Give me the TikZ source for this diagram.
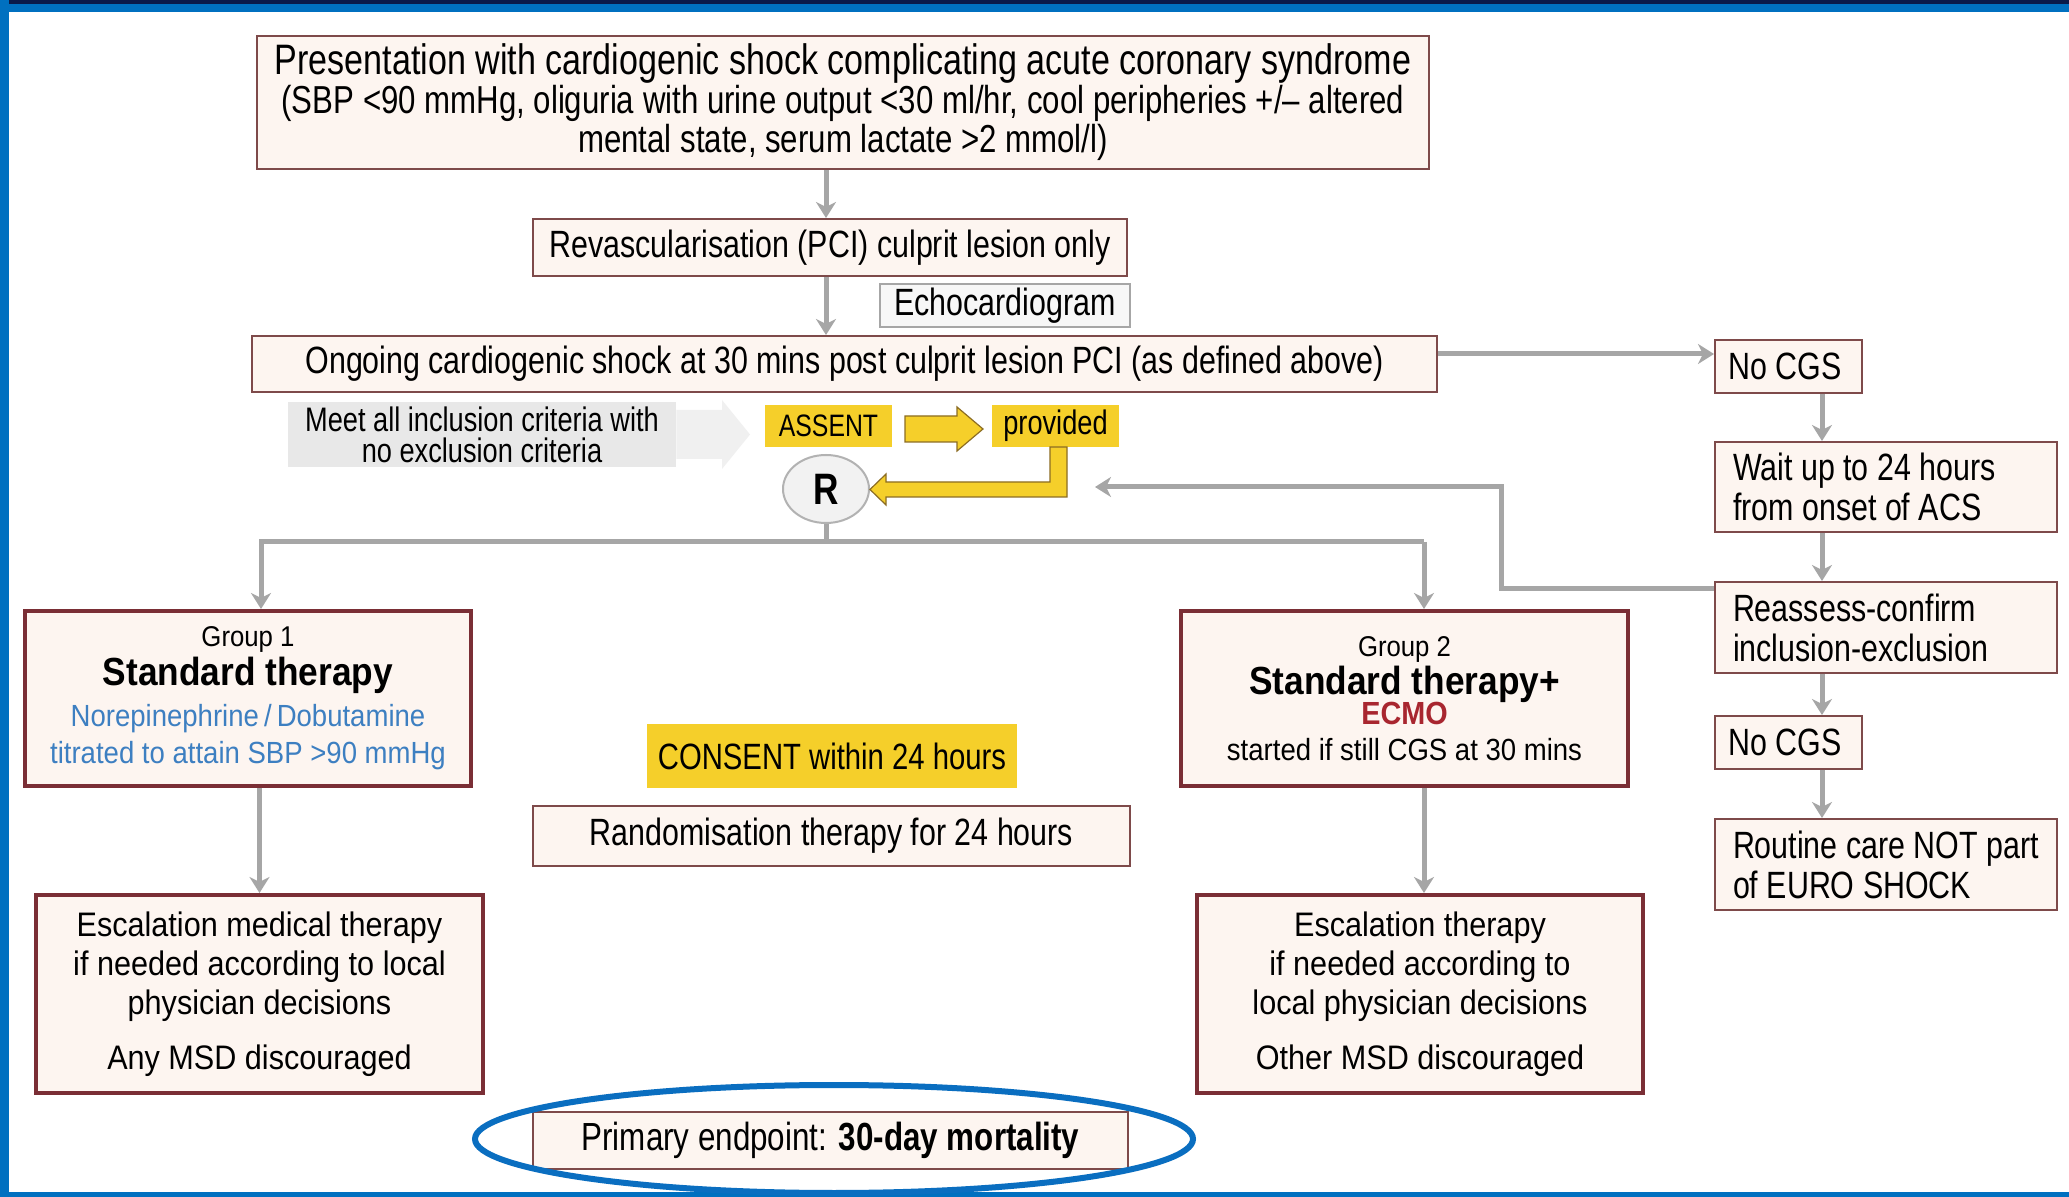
\documentclass[tikz,border=0pt]{standalone}
\usepackage{fontspec}
\setmainfont{Liberation Sans}[FakeStretch=0.8]
\newfontfamily\widefont{Liberation Sans}[FakeStretch=0.9]
\usetikzlibrary{arrows.meta,calc,shapes.geometric}
\definecolor{boxred}{HTML}{7A2E35}
\definecolor{thinred}{HTML}{7E4A4A}
\definecolor{boxfill}{HTML}{FDF5F0}
\definecolor{greyline}{HTML}{A6A6A6}
\definecolor{ylw}{HTML}{F5CF2A}
\definecolor{ylwdark}{HTML}{8C6D23}
\definecolor{frameblue}{HTML}{0070C0}
\definecolor{navy}{HTML}{0A1A4A}
\definecolor{bluetxt}{HTML}{3D7FC1}
\definecolor{ecmored}{HTML}{A8262F}
\definecolor{ellblue}{HTML}{0A6EC0}
\newcommand{\fsz}[2]{\fontsize{#1}{#2}\selectfont}
\begin{document}
\begin{tikzpicture}[x=0.5pt,y=-0.5pt,
  sz/.style 2 args={minimum width=#1*0.5pt, minimum height=#2*0.5pt},
  rbox/.style={draw=thinred, line width=1pt, fill=boxfill, inner sep=0pt, align=center, font=\fsz{19}{19.5}},
  gbox/.style={draw=boxred, line width=2pt, fill=boxfill, inner sep=0pt, align=center, font=\widefont\fsz{17}{19.5}},
  rcol/.style={draw=thinred, line width=1pt, fill=boxfill, inner ysep=0pt, inner xsep=0pt, align=flush left, text width=153pt, font=\fsz{19}{20}},
  ybox/.style={fill=ylw, inner sep=0pt, align=center},
  garrow/.style={draw=greyline, line width=2.5pt, -{Stealth[length=8pt, width=10pt, inset=2.5pt]}},
  gline/.style={draw=greyline, line width=2.5pt}
]
\useasboundingbox (0,0) rectangle (2069,1197);
% frame
\fill[white] (0,0) rectangle (2069,1197);
\fill[frameblue] (0,0) rectangle (2069,12);
\fill[navy] (0,0) rectangle (2069,4);
\fill[frameblue] (0,0) rectangle (9,1197);
\fill[frameblue] (0,1192) rectangle (2069,1197);

% main column
\node[rbox, sz={1172}{133}, font=\fsz{19.5}{19.5}] (top) at (843,102.5)
  {{\fsz{21.3}{19.5}Presentation with cardiogenic shock complicating acute coronary syndrome}\\
   (SBP <90 mmHg, oliguria with urine output <30 ml/hr, cool peripheries +/– altered\\
   mental state, serum lactate >2 mmol/l)};
\node[rbox, sz={594}{57}] (rev) at (830,247.5) {Revascularisation (PCI) culprit lesion only};
\node[draw=greyline, line width=0.8pt, fill=white!97!black, inner sep=0pt, sz={250}{43}, font=\fsz{19}{19.5}] (echo) at (1005,305.5) {Echocardiogram};
\node[rbox, sz={1185}{56}] (ong) at (844.5,364) {Ongoing cardiogenic shock at 30 mins post culprit lesion PCI (as defined above)};

% inclusion criteria + assent
\node[fill=black!9, inner sep=0pt, sz={388}{65}, align=center, font=\fsz{17}{15.5}] (meet) at (482,434.5)
  {Meet all inclusion criteria with\\no exclusion criteria};
\fill[black!6] (meet.east |- 0,410) -- (722,410) -- (722,400) -- (750,434.5) -- (722,469) -- (722,459) -- (meet.east |- 0,459) -- cycle;
\node[ybox, sz={127}{42}, font=\fsz{15.5}{18}] (assent) at (828.5,426) {ASSENT};
\node[ybox, sz={127}{42}, font=\fsz{17}{18}] (prov) at (1055.5,426) {provided};
\filldraw[fill=ylw, draw=ylwdark, line width=0.6pt] (905,416) -- (957,416) -- (957,407) -- (983,429) -- (957,451) -- (957,442) -- (905,442) -- cycle;
\node[draw=black!30, line width=1pt, fill=black!5, ellipse, inner sep=0pt, sz={86}{68}, font=\bfseries\fsz{22}{22}] (R) at (826,489) {R};
\filldraw[fill=ylw, draw=ylwdark, line width=0.6pt] (1050,447) -- (1067,447) -- (1067,497) -- (886,497) -- (886,505) -- (870,489.5) -- (886,474) -- (886,482) -- (1050,482) -- cycle;

% groups
\node[gbox, sz={446}{175}, font=\widefont\fsz{15.3}{18.5}] (g1) at (248,698.5)
  {{\fsz{14.3}{15}Group 1}\\[1pt]
   {\bfseries\fsz{19.6}{22}Standard therapy}\\[2pt]
   {\color{bluetxt}Norepinephrine\,/\,Dobutamine}\\
   {\color{bluetxt}titrated to attain SBP >90 mmHg}};
\node[gbox, sz={447}{175}, font=\widefont\fsz{15.3}{18}] (g2) at (1404.5,698.5)
  {{\fsz{14.3}{15}Group 2}\\[1pt]
   {\bfseries\fsz{19.6}{22}Standard therapy+}\\[-3pt]
   {\color{ecmored}\bfseries\fsz{16}{18}ECMO}\\
   started if still CGS at 30 mins};
\node[ybox, sz={370}{64}, font=\fsz{18.3}{20}] (consent) at (832,756) {CONSENT within 24 hours};
\node[rbox, sz={597}{60}] (rand) at (831.5,836) {Randomisation therapy for 24 hours};
\node[gbox, sz={447}{198}] (esc1) at (259.5,994)
  {Escalation medical therapy\\ if needed according to local\\ physician decisions\\[8pt] Any MSD discouraged};
\node[gbox, sz={446}{198}] (esc2) at (1420,994)
  {Escalation therapy\\ if needed according to\\ local physician decisions\\[8pt] Other MSD discouraged};
\node[rbox, sz={595}{57}, font=\fsz{19.6}{20}] (prim) at (830.5,1140.5) {Primary endpoint: \textbf{30-day mortality}};
\draw[ellblue, line width=3pt] (834,1139) ellipse [x radius=359, y radius=54];

% right column
\node[rcol, sz={147}{53}, text width=60pt] (nocgA) at (1788.5,366.5) {No CGS};
\node[rcol, sz={342}{90}] (wait) at (1886,487) {Wait up to 24 hours\\from onset of ACS};
\node[rcol, sz={342}{91}] (reas) at (1886,627.5) {Reassess-confirm\\inclusion-exclusion};
\node[rcol, sz={147}{53}, text width=60pt] (nocgB) at (1788.5,742.5) {No CGS};
\node[rcol, sz={342}{91}] (rout) at (1886,864.5) {Routine care NOT part\\of EURO SHOCK};

% connectors
\coordinate (colx) at (1822,0);
\coordinate (brL) at (261,542);
\coordinate (brR) at (1424,542);
\coordinate (fbend) at (1095,487);
\draw[garrow] (R |- top.south) -- (R |- rev.north);
\draw[garrow] (R |- rev.south) -- (R |- ong.north);
\draw[garrow] ([yshift=5pt]ong.east) -- ([yshift=5pt]ong.east -| nocgA.west);
\draw[garrow] (colx |- nocgA.south) -- (colx |- wait.north);
\draw[garrow] (colx |- wait.south) -- (colx |- reas.north);
\draw[garrow] (colx |- reas.south) -- (colx |- nocgB.north);
\draw[garrow] (colx |- nocgB.south) -- (colx |- rout.north);
\draw[garrow] ([yshift=-4pt]reas.north west) -- ++(-213,0) |- (fbend);
\draw[gline] (R.south) -- (R.south |- brL);
\draw[garrow] (brR) -- (brL) -- (brL |- g1.north);
\draw[garrow] (brR) -- (brR |- g2.north);
\draw[garrow] (esc1.north |- g1.south) -- (esc1.north);
\draw[garrow] (brR |- g2.south) -- (brR |- esc2.north);
\end{tikzpicture}
\end{document}
